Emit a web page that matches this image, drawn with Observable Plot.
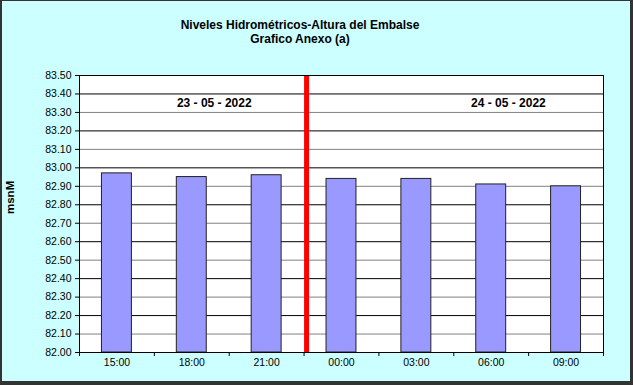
<!DOCTYPE html>
<html>
<head>
<meta charset="utf-8">
<script src="https://cdn.jsdelivr.net/npm/d3@7"></script>
<script src="https://cdn.jsdelivr.net/npm/@observablehq/plot@0.6"></script>
<style>
  html, body { margin: 0; padding: 0; background: #CCFFFF; }
  #wrap { position: relative; width: 633px; height: 385px; background: #CCFFFF; overflow: hidden;
          font-family: Arial, "Liberation Sans", sans-serif; }
  #title { height: 62px; box-sizing: border-box; padding-top: 18px; width: 600px;
           text-align: center; font-weight: bold; font-size: 12px; line-height: 14px; color: #000; }
  #frame { position: absolute; left: 0; top: 0; width: 633px; height: 385px; box-sizing: border-box;
           border-style: solid; border-color: #333; border-width: 1px 3px 4px 2px; pointer-events: none; }
  svg { display: block; }
</style>
</head>
<body>
<div id="wrap">
  <div id="title">Niveles Hidrométricos-Altura del Embalse<br>Grafico Anexo (a)</div>
  <div id="chart"></div>
  <div id="frame"></div>
</div>
<script>
const hours = ["15:00", "18:00", "21:00", "00:00", "03:00", "06:00", "09:00"];
const levels = [82.97, 82.95, 82.96, 82.94, 82.94, 82.91, 82.90];
const yTicks = [82.0, 82.1, 82.2, 82.3, 82.4, 82.5, 82.6, 82.7, 82.8, 82.9, 83.0, 83.1, 83.2, 83.3, 83.4, 83.5];
const dates = ["23 - 05 - 2022", "24 - 05 - 2022"];
const yLabel = "msnM";

const bars = hours.map((h, i) => ({h, i, v: levels[i]}));
const grid = yTicks.slice(1, -1).map(v => ({v, dark: Math.round(v * 10) % 2 === 0}));
const boundaries = d3.range(hours.length + 1);

const chart = Plot.plot({
  width: 633,
  height: 323,
  marginTop: 13,
  marginBottom: 33,
  marginLeft: 79,
  marginRight: 30,
  style: {background: "transparent", fontFamily: "Arial, 'Liberation Sans', sans-serif", fontSize: "10.5px", color: "#000"},
  x: {domain: [0, hours.length]},
  y: {domain: [82, 83.5]},
  marks: [
    Plot.frame({fill: "#FFFFFF", stroke: "none"}),
    Plot.ruleY(grid, {y: "v", stroke: d => d.dark ? "#000000" : "#808080", strokeWidth: 1}),
    Plot.rectY(bars, {x1: d => d.i + 0.3, x2: d => d.i + 0.7, y1: 82, y2: "v",
                      fill: "#9999FF", stroke: "#222", strokeWidth: 1}),
    Plot.ruleX([hours.indexOf("00:00")], {stroke: "#FF0000", strokeWidth: 5, dx: 2.5}),
    Plot.text(dates, {x: (d, i) => i === 0 ? 1.8 : 5.73, y: 83.35,
                      fontWeight: "bold", fontSize: 12, fill: "#000"}),
    Plot.frame({stroke: "#000", strokeWidth: 1}),
    Plot.axisY({ticks: yTicks, tickFormat: d3.format(".2f"), tickSize: 4, tickPadding: 4, label: null,
                fontSize: 10.5}),
    Plot.axisX({ticks: boundaries, tickFormat: () => "", tickSize: 4, label: null}),
    Plot.axisX({ticks: hours.map((h, i) => i + 0.5), tickFormat: (d) => hours[Math.floor(d)],
                tickSize: 0, tickPadding: 6, label: null, fontSize: 10.5}),
    Plot.text([yLabel], {frameAnchor: "left", dx: -69, rotate: -90, fontWeight: "bold", fontSize: 11.5, fill: "#000"})
  ]
});
document.getElementById("chart").appendChild(chart);
</script>
</body>
</html>
